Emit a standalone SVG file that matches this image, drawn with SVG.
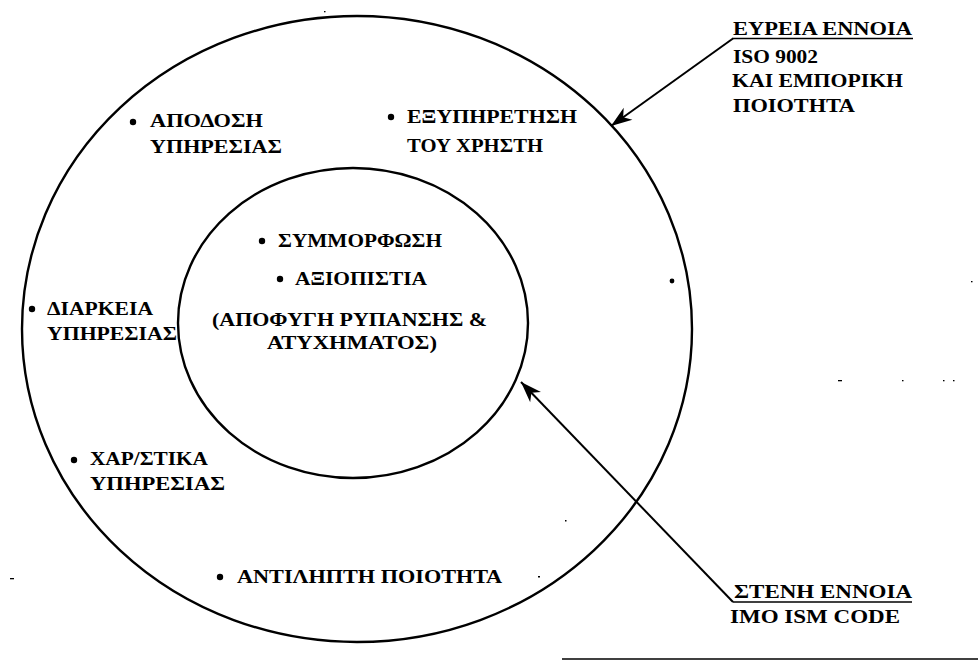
<svg xmlns="http://www.w3.org/2000/svg" width="978" height="662" viewBox="0 0 978 662">
  <defs>
    <style>
      .ring { fill: none; stroke: #000; stroke-width: 2.4; }
      .lbl { font-family: "Liberation Serif", "Times New Roman", serif; font-weight: bold; font-size: 18px; fill: #000; }
      .dot { fill: #000; }
      .conn { stroke: #000; stroke-width: 2; fill: none; }
      .rule { stroke: #000; stroke-width: 1.6; }
      .speck { fill: #000; }
    </style>
    <marker id="head" viewBox="-22 -8 24 16" refX="0" refY="0" markerWidth="24" markerHeight="16" markerUnits="userSpaceOnUse" orient="auto">
      <path d="M0,0 L-21,-7.5 L-15,0 L-21,7.5 Z" fill="#000"/>
    </marker>
  </defs>

  <rect width="978" height="662" fill="#fff"/>

  <!-- broad concept: outer ring -->
  <g id="outer-ring">
    <ellipse class="ring" cx="357" cy="329" rx="335" ry="313"/>
  </g>

  <!-- narrow concept: inner ring -->
  <g id="inner-ring">
    <ellipse class="ring" cx="353" cy="323" rx="175" ry="155"/>
  </g>

  <!-- outer ring items -->
  <g id="item-apodosi">
    <circle class="dot" cx="133" cy="122" r="3.2"/>
    <text class="lbl" x="150" y="127" textLength="113" lengthAdjust="spacingAndGlyphs">ΑΠΟΔΟΣΗ</text>
    <text class="lbl" x="150" y="153" textLength="132" lengthAdjust="spacingAndGlyphs">ΥΠΗΡΕΣΙΑΣ</text>
  </g>
  <g id="item-exypiretisi">
    <circle class="dot" cx="391" cy="117" r="3.2"/>
    <text class="lbl" x="407" y="123" textLength="170" lengthAdjust="spacingAndGlyphs">ΕΞΥΠΗΡΕΤΗΣΗ</text>
    <text class="lbl" x="407" y="152" textLength="136" lengthAdjust="spacingAndGlyphs">ΤΟΥ ΧΡΗΣΤΗ</text>
  </g>
  <g id="item-diarkeia">
    <circle class="dot" cx="32" cy="309" r="3.2"/>
    <text class="lbl" x="47" y="315" textLength="106" lengthAdjust="spacingAndGlyphs">ΔΙΑΡΚΕΙΑ</text>
    <text class="lbl" x="47" y="340" textLength="130" lengthAdjust="spacingAndGlyphs">ΥΠΗΡΕΣΙΑΣ</text>
  </g>
  <g id="item-xaraktiristika">
    <circle class="dot" cx="74" cy="460" r="3.2"/>
    <text class="lbl" x="90" y="465" textLength="118" lengthAdjust="spacingAndGlyphs">ΧΑΡ/ΣΤΙΚΑ</text>
    <text class="lbl" x="90" y="490" textLength="135" lengthAdjust="spacingAndGlyphs">ΥΠΗΡΕΣΙΑΣ</text>
  </g>
  <g id="item-antilipti">
    <circle class="dot" cx="220" cy="577" r="3.2"/>
    <text class="lbl" x="237" y="583" textLength="265" lengthAdjust="spacingAndGlyphs">ΑΝΤΙΛΗΠΤΗ ΠΟΙΟΤΗΤΑ</text>
  </g>

  <!-- inner ring items -->
  <g id="item-symmorfosi">
    <circle class="dot" cx="262" cy="241" r="3.2"/>
    <text class="lbl" x="278" y="247" textLength="164" lengthAdjust="spacingAndGlyphs">ΣΥΜΜΟΡΦΩΣΗ</text>
  </g>
  <g id="item-axiopistia">
    <circle class="dot" cx="280" cy="279" r="3.2"/>
    <text class="lbl" x="295" y="285" textLength="132" lengthAdjust="spacingAndGlyphs">ΑΞΙΟΠΙΣΤΙΑ</text>
  </g>
  <g id="item-apofygi">
    <text class="lbl" x="212" y="326" textLength="275" lengthAdjust="spacingAndGlyphs">(ΑΠΟΦΥΓΗ ΡΥΠΑΝΣΗΣ &amp;</text>
    <text class="lbl" x="267" y="349" textLength="170" lengthAdjust="spacingAndGlyphs">ΑΤΥΧΗΜΑΤΟΣ)</text>
  </g>

  <!-- side captions -->
  <g id="caption-broad">
    <text class="lbl" x="733" y="35" textLength="179" lengthAdjust="spacingAndGlyphs">ΕΥΡΕΙΑ ΕΝΝΟΙΑ</text>
    <line class="rule" x1="732" y1="38.5" x2="913" y2="38.5"/>
    <text class="lbl" x="733" y="63" textLength="85" lengthAdjust="spacingAndGlyphs">ISO 9002</text>
    <text class="lbl" x="732" y="87" textLength="171" lengthAdjust="spacingAndGlyphs">ΚΑΙ ΕΜΠΟΡΙΚΗ</text>
    <text class="lbl" x="733" y="112" textLength="122" lengthAdjust="spacingAndGlyphs">ΠΟΙΟΤΗΤΑ</text>
  </g>
  <g id="caption-narrow">
    <text class="lbl" x="734" y="598" textLength="178" lengthAdjust="spacingAndGlyphs">ΣΤΕΝΗ ΕΝΝΟΙΑ</text>
    <line class="rule" x1="733" y1="602" x2="912" y2="602"/>
    <text class="lbl" x="730" y="623" textLength="170" lengthAdjust="spacingAndGlyphs">IMO ISM CODE</text>
  </g>

  <!-- connectors -->
  <g id="connectors">
    <line class="conn" x1="733" y1="38.5" x2="611" y2="126" marker-end="url(#head)"/>
    <line class="conn" x1="733" y1="602" x2="521" y2="382" marker-end="url(#head)"/>
  </g>

  <!-- rule along the bottom edge -->
  <line class="rule" x1="562" y1="659" x2="978" y2="659"/>

  <!-- small marks -->
  <g id="marks">
    <circle class="speck" cx="672" cy="281" r="2.4"/>
    <rect class="speck" x="838" y="380" width="4" height="1.3"/>
    <rect class="speck" x="902" y="380" width="1.5" height="1.3"/>
    <rect class="speck" x="943" y="380" width="1.5" height="1.3"/>
    <rect class="speck" x="953" y="380" width="1.5" height="1.3"/>
    <rect class="speck" x="971" y="281" width="1.5" height="1.3"/>
    <rect class="speck" x="10" y="578" width="4" height="1.3"/>
    <rect class="speck" x="538" y="576" width="2" height="1.5"/>
    <rect class="speck" x="565" y="520" width="1.5" height="1.5"/>
    <rect class="speck" x="324" y="11" width="1.5" height="1.3"/>
  </g>
</svg>
